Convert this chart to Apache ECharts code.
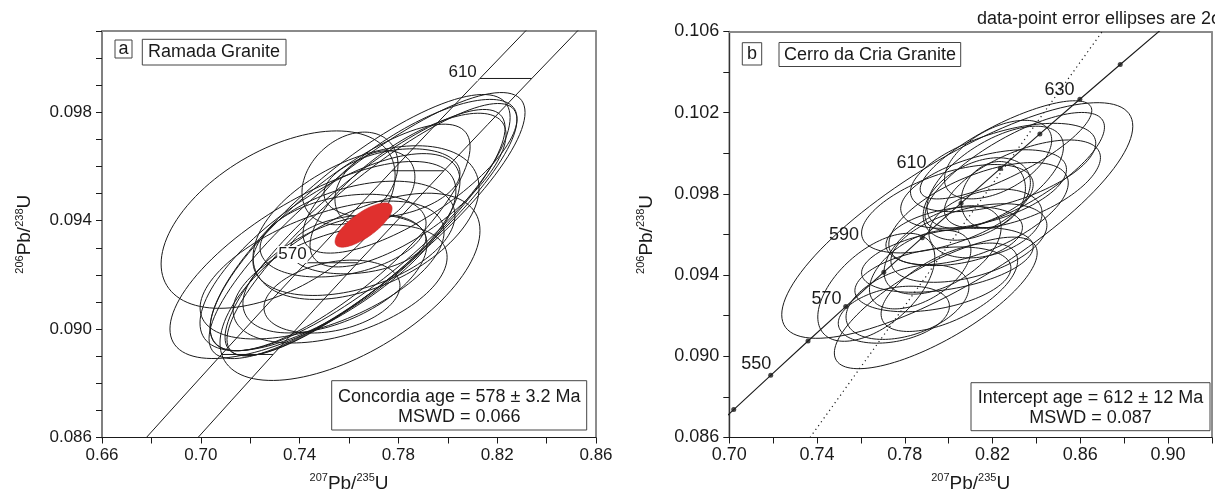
<!DOCTYPE html>
<html>
<head>
<meta charset="utf-8">
<script src="https://cdn.jsdelivr.net/npm/echarts@6.0.0/dist/echarts.min.js"></script>
<style>
  html, body { margin: 0; padding: 0; background: #fff; }
  #chart { width: 1215px; height: 498px; }
</style>
</head>
<body>
<div id="chart"></div>
<script>
// ---- panel a: Ramada Granite ----
// error ellipses: centre, half extent in x and y, correlation
const aEllX   = [0.7313, 0.7604, 0.7673, 0.7693, 0.7665, 0.7645, 0.7564, 0.7604, 0.7705, 0.7669, 0.7620, 0.7576, 0.7543, 0.7564, 0.7491, 0.7531, 0.7636, 0.7774, 0.7847, 0.7839, 0.7454, 0.7523];
const aEllY   = [0.09404, 0.09156, 0.09382, 0.09367, 0.09356, 0.09393, 0.09338, 0.09556, 0.09520, 0.09393, 0.09335, 0.09345, 0.09204, 0.09167, 0.09218, 0.09120, 0.09313, 0.09538, 0.09564, 0.09513, 0.09255, 0.09284];
const aEllSx  = [0.04737, 0.05263, 0.06397, 0.05870, 0.05668, 0.06073, 0.05263, 0.01943, 0.01619, 0.04575, 0.04089, 0.03360, 0.03725, 0.04332, 0.04939, 0.02753, 0.02753, 0.02753, 0.04332, 0.03968, 0.05789, 0.05263];
const aEllSy  = [0.003273, 0.003455, 0.004909, 0.004655, 0.004545, 0.004727, 0.004182, 0.001709, 0.001382, 0.002836, 0.002109, 0.001527, 0.002182, 0.002182, 0.002545, 0.001345, 0.001091, 0.001273, 0.002836, 0.002836, 0.003636, 0.003636];
const aEllRho = [0.50, 0.60, 0.85, 0.87, 0.85, 0.82, 0.80, 0.30, 0.30, 0.45, 0.40, 0.30, 0.50, 0.45, 0.55, 0.30, 0.20, 0.30, 0.75, 0.72, 0.70, 0.72];
// concordia age ellipse (red)
const aAgeEllX = [0.7659];
const aAgeEllY = [0.09384];
const aAgeEllSx = [0.01154];
const aAgeEllSy = [0.000818];
const aAgeEllRho = [0.75];
// concordia band with decay-constant errors
const aBandAge = [520, 530, 540, 550, 560, 570, 580, 590, 600, 610, 620, 630];
const aBandY   = [0.084007, 0.085690, 0.087376, 0.089064, 0.090755, 0.092448, 0.094144, 0.095843, 0.097544, 0.099248, 0.100954, 0.102664];
const aBandLoX = [0.6583, 0.6749, 0.6916, 0.7084, 0.7254, 0.7426, 0.7599, 0.7774, 0.7951, 0.8130, 0.8310, 0.8493];
const aBandHiX = [0.6793, 0.6958, 0.7125, 0.7293, 0.7463, 0.7635, 0.7809, 0.7984, 0.8161, 0.8340, 0.8520, 0.8702];
const aTickAges = [550, 570, 590, 610];
const aLabelText = ['570', '610'];
const aLabelX = [0.7371, 0.8060];
const aLabelY = [0.09275, 0.09947];

// ---- panel b: Cerro da Cria Granite ----
const bEllX   = [0.8039, 0.7941, 0.7750, 0.7812, 0.7928, 0.7994, 0.8261, 0.8248, 0.8212, 0.8203, 0.8128, 0.7994, 0.8136, 0.8301, 0.8025, 0.8092, 0.7972, 0.8168, 0.8225, 0.7870, 0.8003, 0.8336, 0.7670, 0.8159];
const bEllY   = [0.09669, 0.09263, 0.09205, 0.09267, 0.09379, 0.09475, 0.10017, 0.09930, 0.09882, 0.09795, 0.09775, 0.09727, 0.09703, 0.09911, 0.09592, 0.09558, 0.09524, 0.09654, 0.09969, 0.09427, 0.09340, 0.09848, 0.09340, 0.09824];
const bEllSx  = [0.08000, 0.04622, 0.02533, 0.02800, 0.03556, 0.03911, 0.03911, 0.04222, 0.03111, 0.01467, 0.02444, 0.03911, 0.04089, 0.04089, 0.03111, 0.03556, 0.02667, 0.02578, 0.02444, 0.02311, 0.03111, 0.03556, 0.02667, 0.03778];
const bEllSy  = [0.005804, 0.003241, 0.001403, 0.001838, 0.001596, 0.001596, 0.002418, 0.002177, 0.002515, 0.001645, 0.002031, 0.002177, 0.002515, 0.002902, 0.001451, 0.001935, 0.002177, 0.001693, 0.001935, 0.001935, 0.002177, 0.002177, 0.002660, 0.001935];
const bEllRho = [0.80, 0.76, 0.30, 0.40, 0.35, 0.40, 0.80, 0.55, 0.60, 0.20, 0.40, 0.55, 0.60, 0.75, 0.30, 0.45, 0.50, 0.30, 0.50, 0.50, 0.60, 0.60, 0.55, 0.50];
// concordia curve points (Ma)
const bConAge = [530, 540, 550, 560, 570, 580, 590, 600, 610, 620, 630, 640, 650];
const bConX = [0.68535, 0.702027, 0.71887, 0.735881, 0.75306, 0.770411, 0.787934, 0.80563, 0.823499, 0.841544, 0.859769, 0.878175, 0.896765];
const bConY = [0.08569, 0.087376, 0.089064, 0.090755, 0.092448, 0.094144, 0.095843, 0.097544, 0.099248, 0.100954, 0.102664, 0.104375, 0.10609];
const bDotAges = [540, 550, 560, 570, 580, 590, 600, 610, 620, 630, 640];
// discordia (dotted)
const bDiscX = [0.7368, 0.8700];
const bDiscY = [0.086, 0.106];
const bLabelText = ['550', '570', '590', '610', '630'];
const bLabelX = [0.7123, 0.7443, 0.7523, 0.7830, 0.8505];
const bLabelY = [0.08963, 0.09282, 0.09596, 0.09950, 0.10312];

const FONT = '"Liberation Sans", Arial, sans-serif';
const INK = '#1a1a1a';

function ellipseItem(stroke, fill) {
  return function (params, api) {
    const cx = api.value(0), cy = api.value(1), sx = api.value(2), sy = api.value(3), r = api.value(4);
    const k = Math.sqrt(1 - r * r);
    const pts = [];
    for (let i = 0; i < 120; i++) {
      const t = i / 120 * Math.PI * 2;
      pts.push(api.coord([cx + sx * Math.cos(t), cy + sy * (r * Math.cos(t) + k * Math.sin(t))]));
    }
    return {
      type: 'polygon',
      shape: { points: pts },
      style: { fill: fill, stroke: stroke, lineWidth: fill === 'none' ? 1 : 0.6 }
    };
  };
}

function pack(xs, ys, sxs, sys, rs) {
  return xs.map((x, i) => [x, ys[i], sxs[i], sys[i], rs[i]]);
}

function tickSegment(params, api) {
  const a = api.coord([api.value(0), api.value(2)]);
  const b = api.coord([api.value(1), api.value(2)]);
  return { type: 'line', shape: { x1: a[0], y1: a[1], x2: b[0], y2: b[1] }, style: { stroke: INK, lineWidth: 1 } };
}

const axisTitleRich = {
  s: { fontSize: 11, lineHeight: 12, verticalAlign: 'top', fontFamily: FONT, color: INK },
  b: { fontSize: 19, lineHeight: 22, fontFamily: FONT, color: INK }
};

function bottomAxis(grid, min, max, fontSize) {
  return {
    type: 'value', gridIndex: grid, min: min, max: max, interval: 0.02,
    name: '{s|207}{b|Pb/}{s|235}{b|U}', nameLocation: 'middle', nameGap: 35,
    nameTextStyle: { rich: axisTitleRich },
    axisLine: { onZero: false, lineStyle: { color: INK, width: 1.2 } },
    axisTick: { inside: false, length: 6, lineStyle: { color: INK, width: 1 } },
    axisLabel: {
      margin: 9, fontSize: fontSize, color: INK, fontFamily: FONT,
      formatter: v => (Math.round((v - min) / 0.02) % 2 === 0 ? v.toFixed(2) : '')
    },
    splitLine: { show: false }
  };
}

function topAxis(grid, min, max) {
  return {
    type: 'value', gridIndex: grid, position: 'top', min: min, max: max,
    axisLine: { onZero: false, lineStyle: { color: '#8a8a8a', width: 2 } },
    axisTick: { show: false }, axisLabel: { show: false }, splitLine: { show: false }
  };
}

function leftAxis(grid, min, max, step, every, fontSize, lineColor, lineWidth, gap) {
  return {
    type: 'value', gridIndex: grid, min: min, max: max, interval: step,
    name: '{s|206}{b|Pb/}{s|238}{b|U}', nameLocation: 'middle', nameRotate: 90, nameGap: gap,
    nameTextStyle: { rich: axisTitleRich },
    axisLine: { onZero: false, lineStyle: { color: lineColor, width: lineWidth } },
    axisTick: { inside: false, length: 6, lineStyle: { color: INK, width: 1 } },
    axisLabel: {
      margin: 10, fontSize: fontSize, color: INK, fontFamily: FONT,
      formatter: v => (Math.round((v - min) / step) % every === 0 ? v.toFixed(3) : '')
    },
    splitLine: { show: false }
  };
}

function labelSeries(xi, yi, texts, xs, ys, withBg, size) {
  return {
    type: 'scatter', xAxisIndex: xi, yAxisIndex: yi, z: 10,
    symbolSize: 0, itemStyle: { color: INK }, silent: true,
    data: texts.map((t, i) => [xs[i], ys[i], t]),
    label: {
      show: true, position: 'inside', formatter: p => p.value[2],
      fontSize: size, fontFamily: FONT, color: INK, opacity: 1,
      textBorderWidth: 0,
      backgroundColor: withBg ? '#fff' : 'transparent', padding: [0, 1]
    }
  };
}

function box(x, y, w, h, text, cx, cy) {
  return {
    type: 'group', z: 100,
    children: [
      { type: 'rect', shape: { x: x, y: y, width: w, height: h }, style: { fill: '#fff', stroke: '#444', lineWidth: 1 } },
      { type: 'text', x: cx, y: cy, style: { text: text, font: '18px ' + FONT, fill: INK, align: 'center', verticalAlign: 'middle', lineHeight: 20 } }
    ]
  };
}

const chart = echarts.init(document.getElementById('chart'));

const option = {
  backgroundColor: '#fff',
  animation: false,
  grid: [
    { left: 102, top: 31, width: 494, height: 412, show: true, borderColor: INK, borderWidth: 1 },
    { left: 729.3, top: 31.5, width: 495, height: 411.5, show: true, borderColor: INK, borderWidth: 1 }
  ],
  xAxis: [
    bottomAxis(0, 0.66, 0.86, 17),
    bottomAxis(1, 0.70, 0.92, 18),
    topAxis(0, 0.66, 0.86),
    topAxis(1, 0.70, 0.92)
  ],
  yAxis: [
    leftAxis(0, 0.086, 0.101, 0.001, 4, 17, '#808080', 2, 66),
    leftAxis(1, 0.086, 0.106, 0.002, 2, 18, '#333', 1.4, 72)
  ],
  graphic: [
    box(115, 40, 17, 18, 'a', 123.5, 49),
    box(142.3, 39.3, 143.7, 25.7, 'Ramada Granite', 214, 52.5),
    box(331.7, 380.7, 255, 49.3, 'Concordia age = 578 ± 3.2 Ma\nMSWD = 0.066', 459.2, 406.7),
    box(742.3, 42.7, 19.4, 22.3, 'b', 752, 54),
    box(779, 42.5, 181.7, 24, 'Cerro da Cria Granite', 870, 54.8),
    box(971, 382.7, 239, 48, 'Intercept age = 612 ± 12 Ma\nMSWD = 0.087', 1090.5, 407.7),
    { type: 'text', z: 100, x: 977, y: 19, style: { text: 'data-point error ellipses are 2σ', font: '18px ' + FONT, fill: INK, align: 'left', verticalAlign: 'middle' } }
  ],
  series: [
    // panel a
    {
      type: 'custom', xAxisIndex: 0, yAxisIndex: 0, z: 2, clip: true, silent: true,
      renderItem: ellipseItem(INK, 'none'),
      encode: { x: 0, y: 1 },
      data: pack(aEllX, aEllY, aEllSx, aEllSy, aEllRho)
    },
    {
      type: 'line', xAxisIndex: 0, yAxisIndex: 0, z: 3, clip: true, showSymbol: false, silent: true,
      lineStyle: { color: INK, width: 1 },
      data: aBandLoX.map((x, i) => [x, aBandY[i]])
    },
    {
      type: 'line', xAxisIndex: 0, yAxisIndex: 0, z: 3, clip: true, showSymbol: false, silent: true,
      lineStyle: { color: INK, width: 1 },
      data: aBandHiX.map((x, i) => [x, aBandY[i]])
    },
    {
      type: 'custom', xAxisIndex: 0, yAxisIndex: 0, z: 3, silent: true,
      renderItem: tickSegment,
      encode: { x: [0, 1], y: 2 },
      data: aTickAges.map(age => {
        const i = aBandAge.indexOf(age);
        return [aBandLoX[i], aBandHiX[i], aBandY[i]];
      })
    },
    {
      type: 'custom', xAxisIndex: 0, yAxisIndex: 0, z: 4, silent: true,
      renderItem: ellipseItem('#c62828', '#e0302e'),
      encode: { x: 0, y: 1 },
      data: pack(aAgeEllX, aAgeEllY, aAgeEllSx, aAgeEllSy, aAgeEllRho)
    },
    labelSeries(0, 0, aLabelText, aLabelX, aLabelY, true, 17),

    // panel b
    {
      type: 'custom', xAxisIndex: 1, yAxisIndex: 1, z: 2, clip: true, silent: true,
      renderItem: ellipseItem(INK, 'none'),
      encode: { x: 0, y: 1 },
      data: pack(bEllX, bEllY, bEllSx, bEllSy, bEllRho)
    },
    {
      type: 'line', xAxisIndex: 1, yAxisIndex: 1, z: 3, clip: true, showSymbol: false, silent: true,
      lineStyle: { color: INK, width: 1.1 },
      data: bConX.map((x, i) => [x, bConY[i]])
    },
    {
      type: 'line', xAxisIndex: 1, yAxisIndex: 1, z: 3, clip: true, showSymbol: false, silent: true,
      lineStyle: { color: INK, width: 1.2, type: [1.2, 3.5] },
      data: bDiscX.map((x, i) => [x, bDiscY[i]])
    },
    {
      type: 'scatter', xAxisIndex: 1, yAxisIndex: 1, z: 4, silent: true,
      symbolSize: 5, itemStyle: { color: INK },
      data: bDotAges.map(age => {
        const i = bConAge.indexOf(age);
        return [bConX[i], bConY[i]];
      })
    },
    labelSeries(1, 1, bLabelText, bLabelX, bLabelY, false, 18)
  ]
};

chart.setOption(option);
</script>
</body>
</html>
